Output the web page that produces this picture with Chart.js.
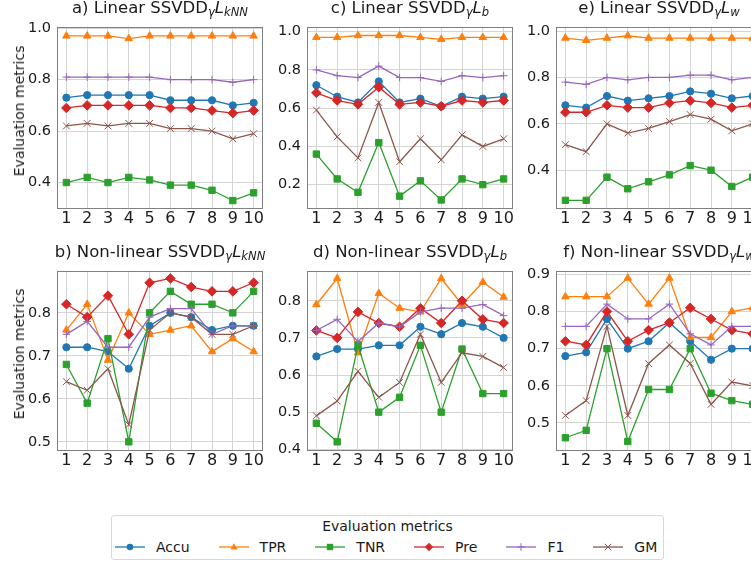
<!DOCTYPE html>
<html>
<head>
<meta charset="utf-8">
<script src="https://cdn.jsdelivr.net/npm/chart.js@4.4.1/dist/chart.umd.min.js"></script>
<style>
  html, body { margin: 0; padding: 0; background: #fff; }
  body {
    width: 751px; height: 565px; position: relative; overflow: hidden;
    font-family: 'DejaVu Sans', sans-serif; color: #1a1a1a;
  }
  .panel { position: absolute; }
  .title {
    position: absolute; white-space: nowrap; font-size: 16.5px; line-height: 20px;
    transform: translateX(-50%);
  }
  .title sub { font-size: 0.7em; vertical-align: -0.3em; line-height: 0; }
  .ylab {
    position: absolute; white-space: nowrap; font-size: 14px; line-height: 18px;
    transform: translate(-50%, -50%) rotate(-90deg);
  }
  #legend {
    position: absolute; left: 111px; top: 515px; width: 553px; height: 45px;
    border: 1px solid #d8d8d8; border-radius: 3px; box-sizing: border-box; background: #fff;
  }
  #legend .lt {
    position: absolute; left: 0; right: 0; top: 1px; text-align: center;
    font-size: 14px; line-height: 18px;
  }
  #legend .items { position: absolute; left: 3px; top: 22px; display: flex; gap: 29px; }
  #legend .item { display: flex; align-items: center; gap: 11px; font-size: 14px; line-height: 18px; }
  #legend svg { display: block; }
</style>
</head>
<body>
<div id="legend">
  <div class="lt">Evaluation metrics</div>
  <div class="items" id="legend-items"></div>
</div>
<script>
// ---- data ----
const runs = [1, 2, 3, 4, 5, 6, 7, 8, 9, 10];
const metrics = ['Accu', 'TPR', 'TNR', 'Pre', 'F1', 'GM'];

// a) Linear SSVDD L_kNN
const aAccu = [0.73, 0.74, 0.74, 0.74, 0.74, 0.72, 0.72, 0.72, 0.70, 0.71];
const aTPR  = [0.97, 0.97, 0.97, 0.96, 0.97, 0.97, 0.97, 0.97, 0.97, 0.97];
const aTNR  = [0.40, 0.42, 0.40, 0.42, 0.41, 0.39, 0.39, 0.37, 0.33, 0.36];
const aPre  = [0.69, 0.70, 0.70, 0.70, 0.70, 0.69, 0.69, 0.68, 0.67, 0.68];
const aF1   = [0.81, 0.81, 0.81, 0.81, 0.81, 0.80, 0.80, 0.80, 0.79, 0.80];
const aGM   = [0.62, 0.63, 0.62, 0.63, 0.63, 0.61, 0.61, 0.60, 0.57, 0.59];

// b) Non-linear SSVDD L_kNN
const bAccu = [0.72, 0.72, 0.71, 0.67, 0.77, 0.80, 0.79, 0.76, 0.77, 0.77];
const bTPR  = [0.76, 0.82, 0.69, 0.80, 0.75, 0.76, 0.77, 0.71, 0.74, 0.71];
const bTNR  = [0.68, 0.59, 0.74, 0.50, 0.80, 0.85, 0.82, 0.82, 0.80, 0.85];
const bPre  = [0.82, 0.79, 0.84, 0.75, 0.87, 0.88, 0.86, 0.85, 0.85, 0.87];
const bF1   = [0.75, 0.78, 0.72, 0.72, 0.79, 0.81, 0.81, 0.75, 0.77, 0.77];
const bGM   = [0.64, 0.62, 0.67, 0.54, 0.76, 0.80, 0.79, 0.75, 0.75, 0.77];

// c) Linear SSVDD L_b
const cAccu = [0.72, 0.66, 0.63, 0.74, 0.63, 0.65, 0.61, 0.66, 0.65, 0.66];
const cTPR  = [0.97, 0.97, 0.98, 0.98, 0.98, 0.97, 0.96, 0.97, 0.97, 0.97];
const cTNR  = [0.36, 0.23, 0.16, 0.42, 0.14, 0.22, 0.12, 0.23, 0.20, 0.23];
const cPre  = [0.68, 0.64, 0.62, 0.71, 0.62, 0.63, 0.61, 0.64, 0.63, 0.64];
const cF1   = [0.80, 0.77, 0.76, 0.82, 0.76, 0.76, 0.74, 0.77, 0.76, 0.77];
const cGM   = [0.59, 0.45, 0.34, 0.63, 0.32, 0.44, 0.33, 0.46, 0.40, 0.44];

// d) Non-linear SSVDD L_b
const dAccu = [0.65, 0.67, 0.67, 0.68, 0.68, 0.73, 0.71, 0.74, 0.73, 0.70];
const dTPR  = [0.79, 0.86, 0.66, 0.82, 0.78, 0.77, 0.86, 0.79, 0.85, 0.81];
const dTNR  = [0.47, 0.42, 0.68, 0.50, 0.54, 0.68, 0.50, 0.67, 0.55, 0.55];
const dPre  = [0.72, 0.70, 0.77, 0.74, 0.73, 0.78, 0.74, 0.80, 0.75, 0.74];
const dF1   = [0.72, 0.75, 0.69, 0.74, 0.73, 0.77, 0.78, 0.78, 0.79, 0.76];
const dGM   = [0.49, 0.53, 0.61, 0.54, 0.58, 0.71, 0.58, 0.66, 0.65, 0.62];

// e) Linear SSVDD L_w
const eAccu = [0.68, 0.67, 0.72, 0.70, 0.71, 0.72, 0.74, 0.73, 0.71, 0.72];
const eTPR  = [0.97, 0.96, 0.97, 0.98, 0.97, 0.97, 0.97, 0.97, 0.97, 0.97];
const eTNR  = [0.27, 0.27, 0.37, 0.32, 0.35, 0.38, 0.42, 0.40, 0.33, 0.37];
const ePre  = [0.65, 0.65, 0.68, 0.67, 0.67, 0.69, 0.70, 0.69, 0.67, 0.68];
const eF1   = [0.78, 0.77, 0.80, 0.79, 0.80, 0.80, 0.81, 0.81, 0.79, 0.80];
const eGM   = [0.51, 0.48, 0.60, 0.56, 0.58, 0.61, 0.64, 0.62, 0.57, 0.60];

// f) Non-linear SSVDD L_w
const fAccu = [0.68, 0.69, 0.78, 0.70, 0.72, 0.77, 0.72, 0.67, 0.70, 0.70];
const fTPR  = [0.84, 0.84, 0.84, 0.89, 0.82, 0.89, 0.73, 0.73, 0.80, 0.81];
const fTNR  = [0.46, 0.48, 0.70, 0.45, 0.59, 0.59, 0.70, 0.58, 0.56, 0.55];
const fPre  = [0.72, 0.71, 0.80, 0.72, 0.75, 0.77, 0.81, 0.78, 0.75, 0.74];
const fF1   = [0.76, 0.76, 0.82, 0.78, 0.78, 0.82, 0.74, 0.71, 0.76, 0.76];
const fGM   = [0.52, 0.56, 0.76, 0.52, 0.66, 0.71, 0.66, 0.55, 0.61, 0.60];

// y tick labels per panel
const yTicksA = [0.4, 0.6, 0.8, 1.0];
const yTicksB = [0.5, 0.6, 0.7, 0.8];
const yTicksC = [0.2, 0.4, 0.6, 0.8, 1.0];
const yTicksD = [0.4, 0.5, 0.6, 0.7, 0.8];
const yTicksE = [0.4, 0.6, 0.8, 1.0];
const yTicksF = [0.5, 0.6, 0.7, 0.8, 0.9];

// ---- styling ----
const COLORS = ['#1f77b4', '#ff7f0e', '#2ca02c', '#d62728', '#9467bd', '#8c564b'];
const STYLES = ['circle', 'triangle', 'rect', 'rectRot', 'cross', 'crossRot'];
const RADII  = [3.6, 4.3, 4.5, 4.8, 3.8, 4.8];
const GRID = '#d4d4d4';
const SPINE = '#808080';
const TEXT = '#1a1a1a';
const FONT = "'DejaVu Sans', sans-serif";
const YW = 50, XH = 26, PAD = 6;

const panels = [
  { id: 'a', title: 'a) Linear SSVDD<sub><i>γ</i></sub><i>L</i><sub><i>kNN</i></sub>', L: 57,  T: 18,  R: 263, B: 208,
    series: [aAccu, aTPR, aTNR, aPre, aF1, aGM], yMin: 0.301, yMax: 1.006, yTicks: yTicksA, ylab: true },
  { id: 'b', title: 'b) Non-linear SSVDD<sub><i>γ</i></sub><i>L</i><sub><i>kNN</i></sub>', L: 57, T: 262, R: 263, B: 450,
    series: [bAccu, bTPR, bTNR, bPre, bF1, bGM], yMin: 0.481, yMax: 0.898, yTicks: yTicksB, ylab: true },
  { id: 'c', title: 'c) Linear SSVDD<sub><i>γ</i></sub><i>L</i><sub><i>b</i></sub>', L: 307, T: 18, R: 513, B: 208,
    series: [cAccu, cTPR, cTNR, cPre, cF1, cGM], yMin: 0.078, yMax: 1.026, yTicks: yTicksC },
  { id: 'd', title: 'd) Non-linear SSVDD<sub><i>γ</i></sub><i>L</i><sub><i>b</i></sub>', L: 307, T: 262, R: 513, B: 450,
    series: [dAccu, dTPR, dTNR, dPre, dF1, dGM], yMin: 0.398, yMax: 0.881, yTicks: yTicksD },
  { id: 'e', title: 'e) Linear SSVDD<sub><i>γ</i></sub><i>L</i><sub><i>w</i></sub>', L: 556, T: 18, R: 762, B: 208,
    series: [eAccu, eTPR, eTNR, ePre, eF1, eGM], yMin: 0.237, yMax: 1.019, yTicks: yTicksE },
  { id: 'f', title: 'f) Non-linear SSVDD<sub><i>γ</i></sub><i>L</i><sub><i>w</i></sub>', L: 556, T: 262, R: 762, B: 450,
    series: [fAccu, fTPR, fTNR, fPre, fF1, fGM], yMin: 0.427, yMax: 0.910, yTicks: yTicksF },
];

const framePlugin = {
  id: 'frame',
  afterDraw(chart) {
    const { ctx, chartArea: a } = chart;
    ctx.save();
    ctx.strokeStyle = SPINE;
    ctx.lineWidth = 1;
    ctx.strokeRect(Math.round(a.left) + 0.5, Math.round(a.top) + 0.5,
                   Math.round(a.right - a.left) - 1, Math.round(a.bottom - a.top));
    ctx.restore();
  }
};

function makePanel(p) {
  const div = document.createElement('div');
  div.className = 'panel';
  div.style.left = (p.L - YW) + 'px';
  div.style.top = (p.T - PAD) + 'px';
  div.style.width = (p.R - p.L + YW + PAD) + 'px';
  div.style.height = (p.B - p.T + PAD + XH) + 'px';
  const canvas = document.createElement('canvas');
  div.appendChild(canvas);
  document.body.appendChild(div);

  const t = document.createElement('div');
  t.className = 'title';
  t.innerHTML = p.title;
  t.style.left = ((p.L + p.R) / 2) + 'px';
  t.style.top = (p.T - 20) + 'px';
  document.body.appendChild(t);

  if (p.ylab) {
    const y = document.createElement('div');
    y.className = 'ylab';
    y.textContent = 'Evaluation metrics';
    y.style.left = '19px';
    y.style.top = ((p.T + p.B) / 2 - 2) + 'px';
    document.body.appendChild(y);
  }

  new Chart(canvas, {
    type: 'line',
    data: {
      datasets: metrics.map((m, i) => ({
        label: m,
        data: runs.map((r, j) => ({ x: r, y: p.series[i][j] })),
        borderColor: COLORS[i],
        backgroundColor: COLORS[i],
        pointBackgroundColor: COLORS[i],
        pointBorderColor: COLORS[i],
        pointStyle: STYLES[i],
        pointRadius: RADII[i],
        pointBorderWidth: 1,
        borderWidth: 1.3,
        tension: 0,
        order: metrics.length - 1 - i,
        clip: false
      }))
    },
    options: {
      responsive: true,
      maintainAspectRatio: false,
      animation: false,
      events: [],
      layout: { padding: { left: 0, top: PAD, right: PAD, bottom: 0 } },
      plugins: { legend: { display: false }, tooltip: { enabled: false } },
      scales: {
        x: {
          type: 'linear', min: 0.55, max: 10.45,
          afterBuildTicks: s => { s.ticks = runs.map(v => ({ value: v })); },
          afterFit: s => { s.height = XH; },
          grid: { color: GRID, drawTicks: false },
          border: { display: false },
          ticks: { padding: 1, font: { family: FONT, size: 16 }, color: TEXT, maxRotation: 0, autoSkip: false, callback: v => String(v) }
        },
        y: {
          type: 'linear', min: p.yMin, max: p.yMax,
          afterBuildTicks: s => { s.ticks = p.yTicks.map(v => ({ value: v })); },
          afterFit: s => { s.width = YW; },
          grid: { color: GRID, drawTicks: false },
          border: { display: false },
          ticks: { padding: 6, font: { family: FONT, size: 14.5 }, color: TEXT, autoSkip: false, callback: v => v.toFixed(1) }
        }
      }
    },
    plugins: [framePlugin]
  });
}

panels.forEach(makePanel);

// ---- legend (line + marker handles) ----
function markerSvg(i) {
  const c = COLORS[i];
  let m = '';
  switch (STYLES[i]) {
    case 'circle':   m = `<circle cx="15" cy="6" r="3.3" fill="${c}"/>`; break;
    case 'triangle': m = `<polygon points="15,2.3 18.6,8.6 11.4,8.6" fill="${c}"/>`; break;
    case 'rect':     m = `<rect x="11.8" y="2.8" width="6.4" height="6.4" fill="${c}"/>`; break;
    case 'rectRot':  m = `<polygon points="15,1.8 19.2,6 15,10.2 10.8,6" fill="${c}"/>`; break;
    case 'cross':    m = `<path d="M15 2.2V9.8M11.2 6H18.8" stroke="${c}" stroke-width="1"/>`; break;
    case 'crossRot': m = `<path d="M11.8 2.8L18.2 9.2M18.2 2.8L11.8 9.2" stroke="${c}" stroke-width="1"/>`; break;
  }
  return `<svg width="30" height="12" viewBox="0 0 30 12"><line x1="0" y1="6" x2="30" y2="6" stroke="${c}" stroke-width="1.3"/>${m}</svg>`;
}

document.getElementById('legend-items').innerHTML = metrics.map((m, i) =>
  `<div class="item">${markerSvg(i)}<span>${m}</span></div>`
).join('');
</script>
</body>
</html>
